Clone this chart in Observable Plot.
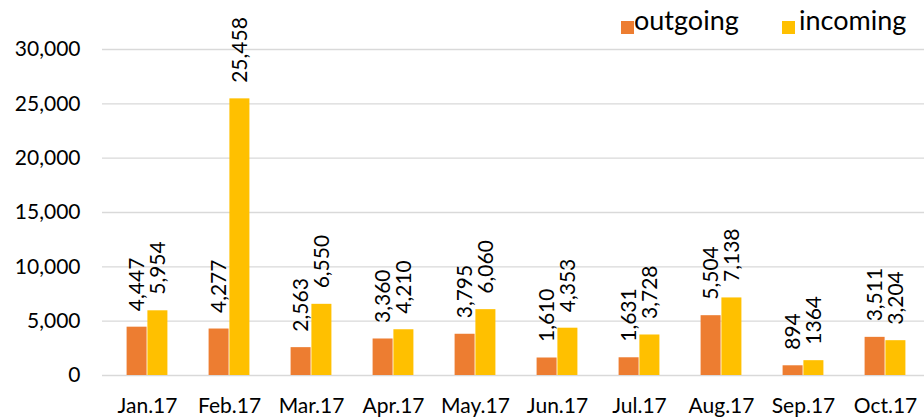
<!DOCTYPE html>
<html>
<head>
<meta charset="utf-8">
<script src="https://cdn.jsdelivr.net/npm/d3@7"></script>
<script src="https://cdn.jsdelivr.net/npm/@observablehq/plot@0.6"></script>
<style>
  html, body { margin: 0; padding: 0; background: #fff; }
  #wrap { position: relative; width: 924px; height: 417px; overflow: hidden; font-family: Lato, sans-serif; }
  .leg { position: absolute; top: 4px; font-size: 27px; color: #000; line-height: 32px; white-space: nowrap; }
  .sw { position: absolute; width: 13px; height: 13px; }
</style>
</head>
<body>
<div id="wrap"></div>
<script>
const months = ["Jan.17", "Feb.17", "Mar.17", "Apr.17", "May.17", "Jun.17", "Jul.17", "Aug.17", "Sep.17", "Oct.17"];
const outgoing = [4447, 4277, 2563, 3360, 3795, 1610, 1631, 5504, 894, 3511];
const incoming = [5954, 25458, 6550, 4210, 6060, 4353, 3728, 7138, 1364, 3204];
const outgoingLabels = ["4,447", "4,277", "2,563", "3,360", "3,795", "1,610", "1,631", "5,504", "894", "3,511"];
const incomingLabels = ["5,954", "25,458", "6,550", "4,210", "6,060", "4,353", "3,728", "7,138", "1364", "3,204"];
const yTicks = [0, 5000, 10000, 15000, 20000, 25000, 30000];
const seriesNames = ["outgoing", "incoming"];
const colors = ["#ED7D31", "#FFC000"];

const outRows = months.map((m, i) => ({month: m, value: outgoing[i], label: outgoingLabels[i]}));
const inRows = months.map((m, i) => ({month: m, value: incoming[i], label: incomingLabels[i]}));

const xRange = [102.1, 930];
const step = (xRange[1] - xRange[0]) / months.length;
const barW = 20.8;
const side = (step - 2 * barW) / 2;

const chart = Plot.plot({
  width: 924,
  height: 417,
  marginTop: 49,
  marginBottom: 42,
  marginLeft: 102,
  marginRight: 0,
  style: {fontFamily: "Lato, sans-serif", fontSize: "21px", color: "#000", background: "transparent"},
  x: {domain: months, range: xRange, padding: 0, label: null},
  y: {domain: [0, 30000], label: null},
  marks: [
    Plot.gridY(yTicks, {stroke: "#d9d9d9", strokeOpacity: 1, strokeWidth: 1.4}),
    Plot.axisY(yTicks, {tickSize: 0, tickPadding: 22, tickFormat: d3.format(","), label: null, fontSize: 21}),
    Plot.axisX({tickSize: 0, tickPadding: 23, label: null, fontSize: 21}),
    Plot.barY(outRows, {x: "month", y: "value", fill: colors[0], insetLeft: side, insetRight: side + barW}),
    Plot.barY(inRows, {x: "month", y: "value", fill: colors[1], insetLeft: side + barW, insetRight: side}),
    Plot.text(outRows, {x: "month", y: "value", text: "label", rotate: -90, textAnchor: "start", dx: -barW / 2, dy: -16, fontSize: 21, fill: "#000"}),
    Plot.text(inRows, {x: "month", y: "value", text: "label", rotate: -90, textAnchor: "start", dx: barW / 2, dy: -16, fontSize: 21, fill: "#000"})
  ]
});

const wrap = document.getElementById("wrap");
wrap.appendChild(chart);

const legendPos = [{sw: 621, tx: 634}, {sw: 782, tx: 799}];
seriesNames.forEach((name, i) => {
  const s = document.createElement("div");
  s.className = "sw";
  s.style.left = legendPos[i].sw + "px";
  s.style.top = "21px";
  s.style.background = colors[i];
  wrap.appendChild(s);
  const t = document.createElement("div");
  t.className = "leg";
  t.style.left = legendPos[i].tx + "px";
  t.textContent = name;
  wrap.appendChild(t);
});
</script>
</body>
</html>
